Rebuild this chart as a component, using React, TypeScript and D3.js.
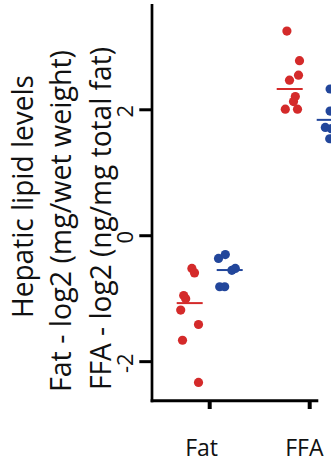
import React from "react";
import * as d3 from "d3";

const categories = ["Fat", "FFA"];
const groupKeys = ["control", "treated"];
const groupColors = ["#d42a2a", "#22469b"];

const fatControl = [-0.52, -0.59, -0.95, -1.0, -1.18, -1.41, -1.66, -2.33];
const fatControlJitter = [0.055, 0.12, -0.15, -0.1, -0.225, 0.22, -0.18, 0.22];
const fatTreated = [-0.36, -0.3, -0.55, -0.52, -0.81, -0.81];
const fatTreatedJitter = [-0.28, -0.11, 0.055, 0.14, -0.25, -0.125];
const ffaControl = [3.25, 2.78, 2.55, 2.47, 2.21, 2.13, 2.01, 2.01];
const ffaControlJitter = [-0.07, 0.245, 0.22, -0.005, 0.14, 0.095, 0.195, -0.11];
const ffaTreated = [2.33, 1.98, 1.72, 1.7, 1.54];
const ffaTreatedJitter = [0.01, 0.01, -0.11, 0.04, 0];

const fatCenters = [-1.07, -0.545];
const ffaCenters = [2.33, 1.84];

const yTicks = [-2, 0, 2];
const yTitleLines = [
  "Hepatic lipid levels",
  "Fat - log2 (mg/wet weight)",
  "FFA - log2 (ng/mg total fat)",
];

const W = 331;
const H = 466;
const FONT = "'Open Sans', 'DejaVu Sans', sans-serif";

export default function App() {
  const axisX = 152;
  const axisY = 400.7;
  const y = d3.scaleLinear().domain([-2.62, 3.68]).range([axisY, 4]);
  const x = d3.scaleBand().domain(categories).range([159.7, 359.7]).padding(0);
  const g = d3.scaleBand().domain(groupKeys).range([-40, 40]).padding(0);
  const cx = (c: string) => (x(c) as number) + x.bandwidth() / 2;
  const gx = (k: string) => (g(k) as number) + g.bandwidth() / 2;

  const series = [
    { cat: "Fat", grp: "control", vals: fatControl, jit: fatControlJitter, center: fatCenters[0] },
    { cat: "Fat", grp: "treated", vals: fatTreated, jit: fatTreatedJitter, center: fatCenters[1] },
    { cat: "FFA", grp: "control", vals: ffaControl, jit: ffaControlJitter, center: ffaCenters[0] },
    { cat: "FFA", grp: "treated", vals: ffaTreated, jit: ffaTreatedJitter, center: ffaCenters[1] },
  ];

  const titleGeom = [
    { bx: 33.3, cy: 196.5, len: 243 },
    { bx: 71, cy: 221, len: 342 },
    { bx: 110.7, cy: 218.5, len: 343 },
  ];

  return (
    <svg
      width={W}
      height={H}
      style={{ position: "absolute", left: 0, top: 0, background: "#fff" }}
      fontFamily={FONT}
    >
      <rect width={W} height={H} fill="#fff" />
      {yTitleLines.map((t, i) => (
        <text
          key={t}
          transform={`translate(${titleGeom[i].bx},${titleGeom[i].cy}) rotate(-90)`}
          textAnchor="middle"
          fontSize={29}
          textLength={titleGeom[i].len}
          lengthAdjust="spacingAndGlyphs"
          fill="#111"
        >
          {t}
        </text>
      ))}
      <line x1={axisX} x2={axisX} y1={y.range()[1]} y2={axisY + 1.5} stroke="#000" strokeWidth={2.7} />
      {yTicks.map((t) => (
        <g key={t}>
          <line x1={axisX - 12.7} x2={axisX} y1={y(t)} y2={y(t)} stroke="#000" strokeWidth={3} />
          <text
            transform={`translate(133,${y(t) + 1.5}) rotate(-90)`}
            textAnchor="middle"
            fontSize={22}
            fill="#111"
          >
            {String(t)}
          </text>
        </g>
      ))}
      <line x1={axisX - 1.35} x2={318.3} y1={axisY} y2={axisY} stroke="#000" strokeWidth={3} />
      {categories.map((c) => (
        <g key={c}>
          <line x1={cx(c)} x2={cx(c)} y1={axisY} y2={409} stroke="#000" strokeWidth={4} />
          <text x={cx(c) - 24.5} y={456} textAnchor="start" fontSize={23} fill="#111">
            {c}
          </text>
        </g>
      ))}
      {series.map((s, si) => {
        const color = groupColors[groupKeys.indexOf(s.grp)];
        const base = cx(s.cat) + gx(s.grp);
        return (
          <g key={si}>
            {s.vals.map((v, i) => (
              <circle key={i} cx={base + s.jit[i] * g.bandwidth()} cy={y(v)} r={4.6} fill={color} />
            ))}
            <line
              x1={base - 13}
              x2={base + 13}
              y1={y(s.center)}
              y2={y(s.center)}
              stroke={color}
              strokeWidth={2}
            />
          </g>
        );
      })}
    </svg>
  );
}
